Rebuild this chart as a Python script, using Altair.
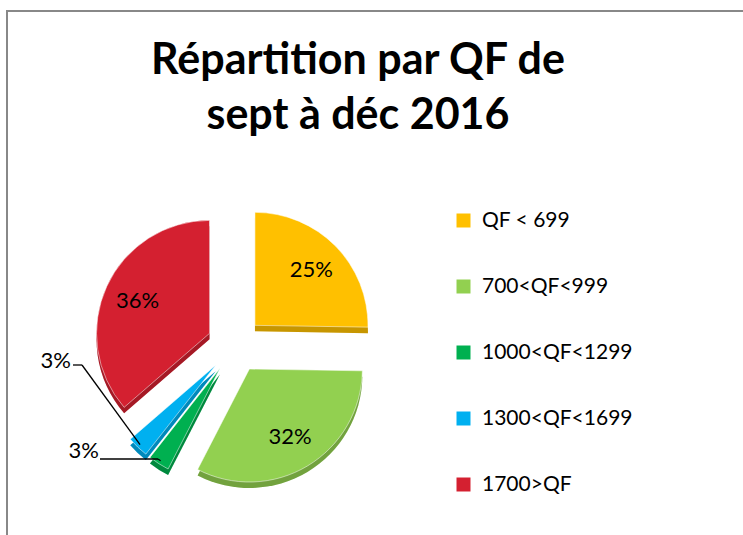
import math
import altair as alt
import pandas as pd

# ---- data ----
categories = ["QF < 699", "700<QF<999", "1000<QF<1299", "1300<QF<1699", "1700>QF"]
shares = [25, 32, 3, 3, 36]
colors = ["#FFC000", "#92D050", "#00B050", "#00B0F0", "#D42030"]
title_lines = ["Répartition par QF de", "sept à déc 2016"]

df = pd.DataFrame({"category": categories, "share": shares, "idx": list(range(len(categories)))})

# ---- layout constants ----
W, H = 743, 535
CX, CY = 235, 345      # pie centre (px)
R = 113                # radius
EXPLODE = 28           # explode distance
DEPTH = 6              # 3D thickness
FONT = "Lato"

# outer-label layout for the small slices: text x,y ; leader start x, y ; elbow x
outer = {
    "1300<QF<1699": (71, 361, 73, 365, 82),
    "1000<QF<1299": (99, 451, 100, 459, 158),
}

def pick(i):
    expr = "0"
    for k, v in outer.items():
        expr = f"datum.category == '{k}' ? {v[i]} : ({expr})"
    return expr

color_scale = alt.Scale(domain=categories, range=colors)
legend = alt.Legend(
    title=None, orient="none", legendX=453, legendY=210,
    symbolType="square", symbolSize=196, symbolStrokeWidth=0,
    labelFontSize=21, labelFont=FONT, labelColor="black",
    rowPadding=44, labelOffset=8, padding=0,
)
color_enc = alt.Color("category:N", scale=color_scale, sort=categories, legend=legend)

base = (
    alt.Chart(df)
    .transform_joinaggregate(total="sum(share)")
    .transform_window(cum="sum(share)", sort=[alt.SortField("idx")], frame=[None, 0])
    .transform_calculate(
        t0="(datum.cum - datum.share) / datum.total * 2 * PI",
        t1="datum.cum / datum.total * 2 * PI",
    )
    .transform_calculate(mid="(datum.t0 + datum.t1) / 2")
    .transform_calculate(
        cx=f"{CX} + {EXPLODE} * sin(datum.mid)",
        cy=f"{CY} - {EXPLODE} * cos(datum.mid)",
    )
    .transform_calculate(
        cyd=f"datum.cy + {DEPTH}",
        lx=f"datum.cx + {0.7 * R} * sin(datum.mid)",
        ly=f"datum.cy - {0.7 * R} * cos(datum.mid)",
        ax=f"datum.cx + {0.97 * R} * sin(datum.mid)",
        ay=f"datum.cy - {0.97 * R} * cos(datum.mid)",
        pct="datum.share + '%'",
    )
)

side = base.mark_arc(radius=R, stroke=None).encode(
    theta=alt.Theta("t0:Q", scale=None), theta2="t1:Q",
    x=alt.X("cx:Q", scale=None), y=alt.Y("cyd:Q", scale=None),
    color=color_enc,
)
side_shade = base.mark_arc(radius=R, fill="black", opacity=0.22).encode(
    theta=alt.Theta("t0:Q", scale=None), theta2="t1:Q",
    x=alt.X("cx:Q", scale=None), y=alt.Y("cyd:Q", scale=None),
)
top = base.mark_arc(radius=R, stroke="white", strokeWidth=0.5).encode(
    theta=alt.Theta("t0:Q", scale=None), theta2="t1:Q",
    x=alt.X("cx:Q", scale=None), y=alt.Y("cy:Q", scale=None),
    color=color_enc,
)

inner_labels = base.transform_filter("datum.share >= 10").mark_text(
    fontSize=22, font=FONT, color="black", align="center", baseline="middle"
).encode(x=alt.X("lx:Q", scale=None), y=alt.Y("ly:Q", scale=None), text="pct:N")

small = base.transform_filter("datum.share < 10").transform_calculate(
    tx=pick(0), ty=pick(1), sx=pick(2), sy=pick(3), ex=pick(4)
)
outer_labels = small.mark_text(
    fontSize=22, font=FONT, color="black", align="right", baseline="middle"
).encode(x=alt.X("tx:Q", scale=None), y=alt.Y("ty:Q", scale=None), text="pct:N")
lead1 = small.mark_rule(color="black", strokeWidth=1.3).encode(
    x=alt.X("sx:Q", scale=None), x2="ex:Q",
    y=alt.Y("sy:Q", scale=None), y2="sy:Q",
)
lead2 = small.mark_rule(color="black", strokeWidth=1.3).encode(
    x=alt.X("ex:Q", scale=None), x2="ax:Q",
    y=alt.Y("sy:Q", scale=None), y2="ay:Q",
)

title = alt.Chart(pd.DataFrame({"t": [0]})).mark_text(
    text=title_lines, fontSize=43, font=FONT, fontWeight="bold", color="black",
    align="center", baseline="top", lineHeight=55,
).encode(x=alt.value(358), y=alt.value(40))

frame_left = alt.Chart(pd.DataFrame({"t": [0]})).mark_rule(color="#888888", strokeWidth=2).encode(
    x=alt.value(7), y=alt.value(10), y2=alt.value(H)
)
frame_top = alt.Chart(pd.DataFrame({"t": [0]})).mark_rule(color="#888888", strokeWidth=2).encode(
    x=alt.value(6), x2=alt.value(W), y=alt.value(11)
)

chart = (
    alt.layer(frame_left, frame_top, title, side, side_shade, top, inner_labels, lead1, lead2, outer_labels)
    .properties(width=W, height=H, autosize=alt.AutoSizeParams(type="none"), padding=0, background="white")
    .configure_view(stroke=None)
)

chart.save("out.html", embed_options={"renderer": "svg", "actions": False})
